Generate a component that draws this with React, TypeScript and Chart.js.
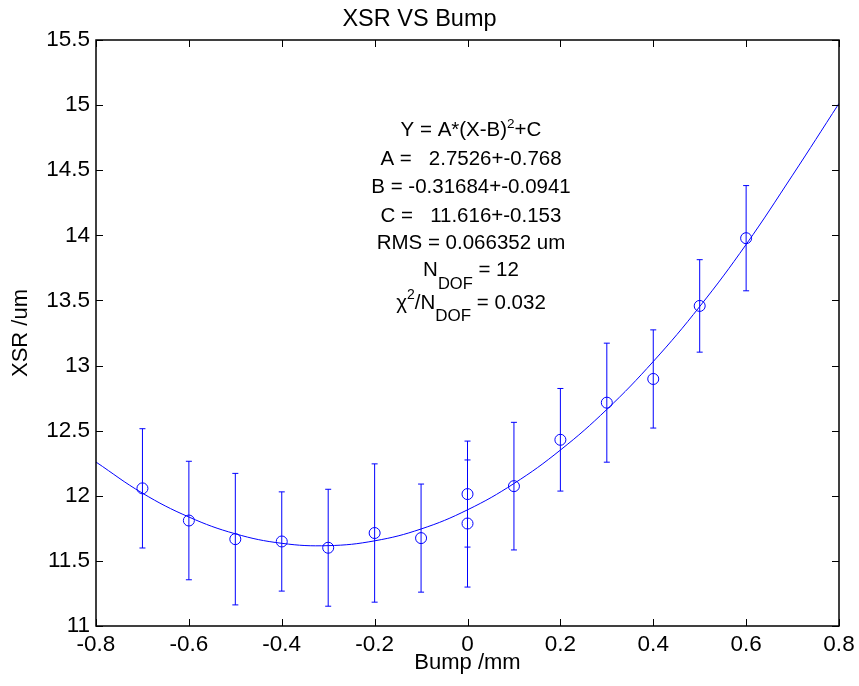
import React, { useEffect, useRef } from "react";
import { Chart, registerables } from "chart.js";

Chart.register(...registerables);

// Measured points (Bump in mm, XSR in um) with symmetric error bars
const bumpX = [-0.7, -0.6, -0.5, -0.4, -0.3, -0.2, -0.1, 0, 0, 0.1, 0.2, 0.3, 0.4, 0.5, 0.6];
const xsrY = [12.057, 11.81, 11.667, 11.649, 11.601, 11.714, 11.675, 12.013, 11.787, 12.074, 12.43, 12.715, 12.897, 13.458, 13.978];
const xsrErr = [0.458, 0.455, 0.505, 0.381, 0.449, 0.531, 0.415, 0.407, 0.488, 0.49, 0.394, 0.457, 0.377, 0.355, 0.404];

// Fitted curve
const fitX = [-0.8, -0.7, -0.6, -0.5, -0.4, -0.3, -0.2, -0.1, 0, 0.1, 0.2, 0.3, 0.4, 0.5, 0.6, 0.7, 0.8];
const fitY = [12.259, 12.02, 11.837, 11.708, 11.635, 11.617, 11.654, 11.745, 11.892, 12.094, 12.351, 12.663, 13.031, 13.453, 13.93, 14.462, 15.013];

// Tick values / labels
const xTickValues = [-0.8, -0.6, -0.4, -0.2, 0, 0.2, 0.4, 0.6, 0.8];
const xTickLabels = ["-0.8", "-0.6", "-0.4", "-0.2", "0", "0.2", "0.4", "0.6", "0.8"];
const yTickValues = [11, 11.5, 12, 12.5, 13, 13.5, 14, 14.5, 15, 15.5];
const yTickLabels = ["11", "11.5", "12", "12.5", "13", "13.5", "14", "14.5", "15", "15.5"];

const titleText = "XSR VS Bump";
const xTitle = "Bump /mm";
const yTitle = "XSR /um";

type Seg = { t: string; s?: number; dy?: number };
const annotationLines: Seg[][] = [
  [{ t: "Y = A*(X-B)" }, { t: "2", s: 13.5, dy: -8 }, { t: "+C" }],
  [{ t: "A =   2.7526+-0.768" }],
  [{ t: "B = -0.31684+-0.0941" }],
  [{ t: "C =   11.616+-0.153" }],
  [{ t: "RMS = 0.066352 um" }],
  [{ t: "N" }, { t: "DOF", s: 16.5, dy: 12.5 }, { t: " = 12" }],
  [{ t: "\u03C7" }, { t: "2", s: 14, dy: -10 }, { t: "/N" }, { t: "DOF", s: 17, dy: 12.7 }, { t: " = 0.032" }],
];
const annotationBaselines = [136, 164.5, 193, 221.5, 249, 276, 308.5];

const FONT = "'Liberation Sans', Arial, Helvetica, sans-serif";
const BLUE = "#0000ff";

const errorBarPlugin = {
  id: "errorBars",
  afterDatasetsDraw(chart: any) {
    const { ctx, scales } = chart;
    const xs = scales.x;
    const ys = scales.y;
    ctx.save();
    ctx.strokeStyle = BLUE;
    ctx.lineWidth = 1;
    for (let i = 0; i < bumpX.length; i++) {
      const px = xs.getPixelForValue(bumpX[i]);
      const top = ys.getPixelForValue(xsrY[i] + xsrErr[i]);
      const bot = ys.getPixelForValue(xsrY[i] - xsrErr[i]);
      const cap = 3;
      ctx.beginPath();
      ctx.moveTo(px, top);
      ctx.lineTo(px, bot);
      ctx.moveTo(px - cap, top);
      ctx.lineTo(px + cap, top);
      ctx.moveTo(px - cap, bot);
      ctx.lineTo(px + cap, bot);
      ctx.stroke();
    }
    ctx.restore();
  },
};

const framePlugin = {
  id: "frameTicks",
  afterDraw(chart: any) {
    const { ctx, chartArea, scales } = chart;
    const { left, right, top, bottom } = chartArea;
    const tl = 7;
    ctx.save();
    ctx.strokeStyle = "#000";
    ctx.lineWidth = 1.5;
    ctx.strokeRect(left, top, right - left, bottom - top);
    ctx.lineWidth = 1;
    ctx.beginPath();
    for (const v of xTickValues) {
      const px = Math.round(scales.x.getPixelForValue(v)) + 0.5;
      ctx.moveTo(px, bottom);
      ctx.lineTo(px, bottom - tl);
      ctx.moveTo(px, top);
      ctx.lineTo(px, top + tl);
    }
    for (const v of yTickValues) {
      const py = Math.round(scales.y.getPixelForValue(v)) + 0.5;
      ctx.moveTo(left, py);
      ctx.lineTo(left + tl, py);
      ctx.moveTo(right, py);
      ctx.lineTo(right - tl, py);
    }
    ctx.stroke();

    // annotation text
    const base = 20.5;
    const cx = 471;
    ctx.fillStyle = "#000";
    ctx.textAlign = "left";
    ctx.textBaseline = "alphabetic";
    annotationLines.forEach((segs, li) => {
      let w = 0;
      for (const s of segs) {
        ctx.font = `${s.s ?? base}px ${FONT}`;
        w += ctx.measureText(s.t).width;
      }
      let x = cx - w / 2;
      const by = annotationBaselines[li];
      for (const s of segs) {
        ctx.font = `${s.s ?? base}px ${FONT}`;
        ctx.fillText(s.t, x, by + (s.dy ?? 0));
        x += ctx.measureText(s.t).width;
      }
    });
    ctx.restore();
  },
};

export default function App() {
  const ref = useRef<HTMLCanvasElement | null>(null);

  useEffect(() => {
    if (!ref.current) return;
    const chart = new Chart(ref.current, {
      type: "line",
      data: {
        datasets: [
          {
            label: "fit",
            data: fitX.map((x, i) => ({ x, y: fitY[i] })),
            borderColor: BLUE,
            borderWidth: 1,
            pointRadius: 0,
            tension: 0.4,
            fill: false,
          },
          {
            label: "data",
            data: bumpX.map((x, i) => ({ x, y: xsrY[i] })),
            showLine: false,
            borderColor: BLUE,
            backgroundColor: "rgba(0,0,0,0)",
            pointBorderColor: BLUE,
            pointBackgroundColor: "rgba(0,0,0,0)",
            pointBorderWidth: 1,
            pointRadius: 5.5,
            pointStyle: "circle",
          },
        ],
      },
      options: {
        animation: false,
        responsive: true,
        maintainAspectRatio: false,
        layout: { padding: { left: 0, right: 20, top: 0, bottom: 0 } },
        plugins: {
          legend: { display: false },
          tooltip: { enabled: false },
          title: {
            display: true,
            text: titleText,
            color: "#000",
            font: { family: FONT, size: 23.5, weight: "normal", lineHeight: 1 },
            padding: { top: 8, bottom: 8.5 },
          },
        },
        scales: {
          x: {
            type: "linear",
            min: -0.8,
            max: 0.8,
            grid: { display: false, drawTicks: false },
            border: { display: false },
            afterBuildTicks: (scale: any) => {
              scale.ticks = xTickValues.map((v) => ({ value: v }));
            },
            afterFit: (scale: any) => {
              scale.height = 60;
              scale.paddingLeft = 0;
              scale.paddingRight = 0;
            },
            ticks: {
              color: "#000",
              font: { family: FONT, size: 22.5 },
              padding: 5,
              maxRotation: 0,
              autoSkip: false,
              callback: (_v: any, i: number) => xTickLabels[i],
            },
            title: {
              display: true,
              text: xTitle,
              color: "#000",
              font: { family: FONT, size: 22 },
              padding: { top: 0, bottom: 10 },
            },
          },
          y: {
            type: "linear",
            min: 11,
            max: 15.5,
            grid: { display: false, drawTicks: false },
            border: { display: false },
            afterBuildTicks: (scale: any) => {
              scale.ticks = yTickValues.map((v) => ({ value: v }));
            },
            afterFit: (scale: any) => {
              scale.width = 96;
              scale.paddingTop = 0;
              scale.paddingBottom = 0;
            },
            ticks: {
              color: "#000",
              font: { family: FONT, size: 22.5 },
              padding: 6,
              autoSkip: false,
              callback: (_v: any, i: number) => yTickLabels[i],
            },
            title: {
              display: true,
              text: yTitle,
              color: "#000",
              font: { family: FONT, size: 22 },
              padding: { top: 8, bottom: 0 },
            },
          },
        },
      },
      plugins: [errorBarPlugin, framePlugin],
    });
    return () => chart.destroy();
  }, []);

  return (
    <div style={{ position: "absolute", left: 0, top: 0, width: 859, height: 686, background: "#fff" }}>
      <canvas ref={ref} style={{ display: "block" }} />
    </div>
  );
}
